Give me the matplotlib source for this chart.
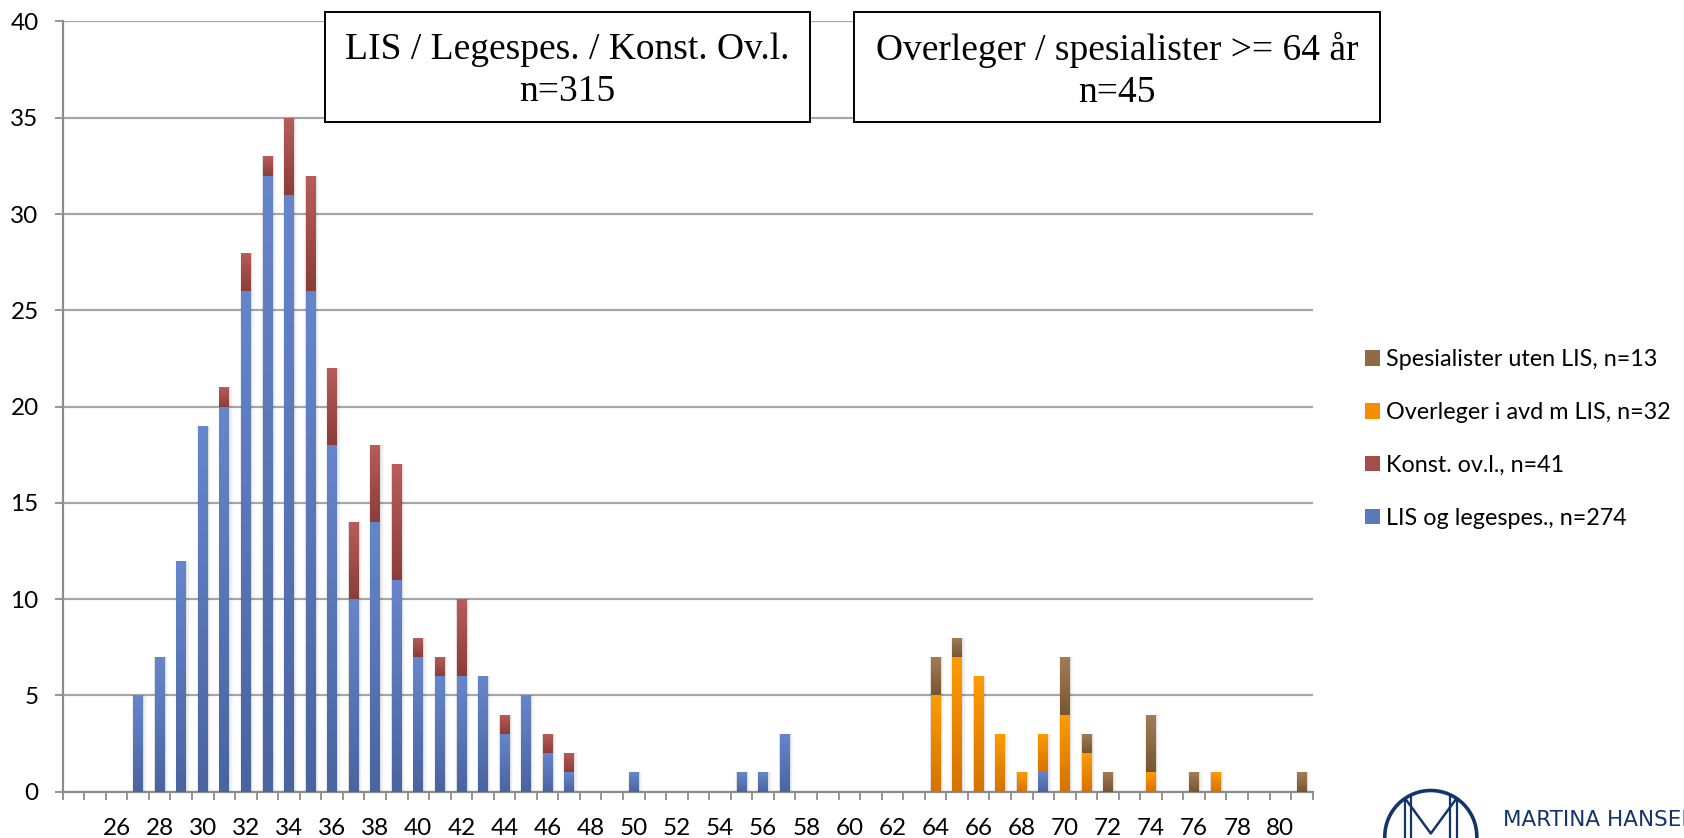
import numpy as np
import matplotlib
matplotlib.use("Agg")
import matplotlib.pyplot as plt
from matplotlib.colors import LinearSegmentedColormap
from matplotlib.patches import Rectangle, Circle, Patch

plt.rcParams["font.family"] = ["Lato", "DejaVu Sans"]

# Age categories on the x axis
ages = np.arange(24, 82)
label_ages = np.arange(26, 81, 2)

# Counts per age for each group (ages not listed have zero)
lis_legespes = {27: 5, 28: 7, 29: 12, 30: 19, 31: 20, 32: 26, 33: 32, 34: 31,
                35: 26, 36: 18, 37: 10, 38: 14, 39: 11, 40: 7, 41: 6, 42: 6,
                43: 6, 44: 3, 45: 5, 46: 2, 47: 1, 50: 1, 55: 1, 56: 1, 57: 3,
                69: 1}
konst_ovl = {31: 1, 32: 2, 33: 1, 34: 4, 35: 6, 36: 4, 37: 4, 38: 4, 39: 6,
             40: 1, 41: 1, 42: 4, 44: 1, 46: 1, 47: 1}
overleger = {64: 5, 65: 7, 66: 6, 67: 3, 68: 1, 69: 2, 70: 4, 71: 2, 74: 1,
             77: 1}
spesialister = {64: 2, 65: 1, 70: 3, 71: 1, 72: 1, 74: 3, 76: 1, 81: 1}

series_labels = ["LIS og legespes., n=274", "Konst. ov.l., n=41",
                 "Overleger i avd m LIS, n=32", "Spesialister uten LIS, n=13"]
series_data = [lis_legespes, konst_ovl, overleger, spesialister]
# (top, bottom) gradient colours and a flat colour for the legend keys
series_grad = [("#6686CC", "#4A64A0"), ("#B95D59", "#8B3D3A"),
               ("#FF9B00", "#D47300"), ("#A37D56", "#775533")]
series_flat = ["#5A79BA", "#A44E4A", "#F58D00", "#8F6B45"]

box_texts = ["LIS / Legespes. / Konst. Ov.l.\nn=315",
             "Overleger / spesialister >= 64 år\nn=45"]

W, H = 1684, 838
fig = plt.figure(figsize=(W / 100, H / 100), dpi=100)
fig.patch.set_facecolor("white")

ax_left, ax_right, ax_top, ax_bottom = 62.7, 1312.7, 21.5, 791.7
ax = fig.add_axes([ax_left / W, 1 - ax_bottom / H,
                   (ax_right - ax_left) / W, (ax_bottom - ax_top) / H])

grid_col = "#A6A6A6"
axis_col = "#8C8C8C"

bottom = np.zeros(len(ages))
containers = []
for data in series_data:
    vals = np.array([data.get(int(a), 0) for a in ages], dtype=float)
    bars = ax.bar(ages, vals, width=0.45, bottom=bottom, zorder=3,
                  facecolor="none", edgecolor="none")
    containers.append(bars)
    bottom += vals

# faint shadow along the sides of each full stack
for i, total in enumerate(bottom):
    if total <= 0:
        continue
    for k, a in enumerate([0.07, 0.04, 0.02]):
        d = 0.05 * (k + 1)
        ax.add_patch(Rectangle((ages[i] - 0.225 - d * 0.4, 0),
                               0.45 + d * 1.6, total,
                               facecolor="black", edgecolor="none",
                               alpha=a, zorder=2.5))

# vertical gradient fill for every bar segment
grad = np.linspace(1, 0, 256).reshape(-1, 1)
for bars, (ctop, cbot) in zip(containers, series_grad):
    cmap = LinearSegmentedColormap.from_list("seg", [cbot, ctop])
    for patch in bars.patches:
        h = patch.get_height()
        if h <= 0:
            continue
        x0, y0, w = patch.get_x(), patch.get_y(), patch.get_width()
        im = ax.imshow(grad, cmap=cmap, vmin=0, vmax=1,
                       extent=(x0, x0 + w, y0, y0 + h), aspect="auto",
                       origin="upper", interpolation="bilinear", zorder=3)
        im.set_clip_path(patch)

ax.set_xlim(23.5, 81.5)
ax.set_ylim(0, 40)
ax.set_aspect("auto")

ax.set_yticks(np.arange(0, 41, 5))
ax.yaxis.grid(True, color=grid_col, linewidth=1.6)
ax.set_axisbelow(True)

ax.set_xticks(np.arange(23.5, 82, 1))
ax.set_xticklabels([])
ax.set_xticks(label_ages, minor=True)
ax.set_xticklabels([str(a) for a in label_ages], minor=True)

ax.tick_params(axis="x", which="major", length=5.8, width=1.3,
               color=axis_col, direction="out")
ax.tick_params(axis="x", which="minor", length=0, pad=19, labelsize=17.5)
ax.tick_params(axis="y", which="major", length=5.8, width=1.3,
               color=axis_col, direction="out", pad=11.5, labelsize=17.5)

for side in ["top", "right"]:
    ax.spines[side].set_visible(False)
for side in ["left", "bottom"]:
    ax.spines[side].set_color(axis_col)
    ax.spines[side].set_linewidth(1.6)

# legend, top entry is the last stacked series
handles = [Patch(facecolor=c, edgecolor="none") for c in series_flat]
fig.legend(handles[::-1], series_labels[::-1], loc="center left",
           bbox_to_anchor=(1365 / W, 1 - 439 / H), frameon=False,
           fontsize=16.8, borderpad=0, borderaxespad=0,
           handlelength=0.64, handleheight=0.64, handletextpad=0.28,
           labelspacing=1.36)

# overlay in pixel coordinates for the captions and the logo
ov = fig.add_axes([0, 0, 1, 1], zorder=10)
ov.set_xlim(0, W)
ov.set_ylim(H, 0)
ov.axis("off")
ov.patch.set_alpha(0)

boxes = [(325, 810), (854, 1380)]
for (x0, x1), txt in zip(boxes, box_texts):
    ov.add_patch(Rectangle((x0, 12.3), x1 - x0, 110, facecolor="white",
                           edgecolor="black", linewidth=1.4))
    ov.text((x0 + x1) / 2, 71, txt, ha="center", va="center",
            fontsize=27, family="Liberation Serif", linespacing=1.28)

navy = "#14356B"
cx, cy, r = 1430.8, 836.5, 46
ov.add_patch(Circle((cx, cy), r, fill=False, edgecolor=navy, linewidth=2.6))
for dx in (-0.56, 0.56, -0.42, 0.42):
    xs = cx + dx * r
    ytop = cy - np.sqrt(r ** 2 - (dx * r) ** 2)
    ov.plot([xs, xs], [ytop, H + 5], color=navy, linewidth=1.6,
            solid_capstyle="butt")
xl, xr = cx - 0.56 * r, cx + 0.56 * r
yt = cy - np.sqrt(r ** 2 - (0.56 * r) ** 2)
ov.plot([xl, cx, xr], [yt, cy - 3, yt], color=navy, linewidth=1.8)
ov.text(1503, 820, "MARTINA HANSENS HOSPITAL", ha="left", va="center",
        fontsize=15.5, color=navy, family="DejaVu Sans")

fig.savefig("out.png", dpi=100, facecolor="white")
